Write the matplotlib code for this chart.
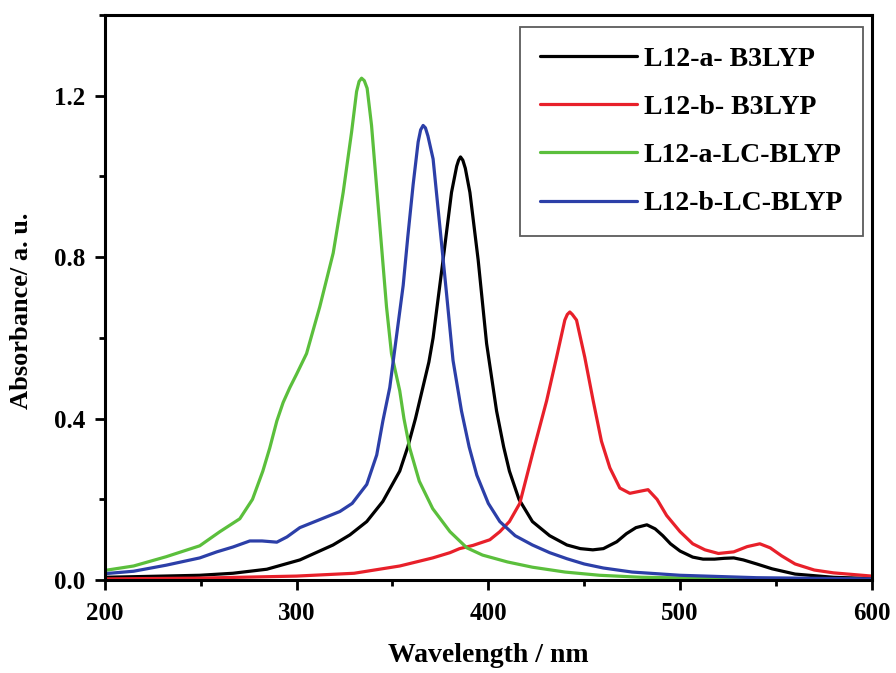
import matplotlib.pyplot as plt
from matplotlib.ticker import MultipleLocator

plt.rcParams['font.family'] = ['Liberation Serif', 'DejaVu Serif']
plt.rcParams['font.weight'] = 'bold'

# Spectra (wavelength in nm, absorbance in a.u.)
wl_a_b3 = [200, 230, 249.5, 266.8, 284.5, 301.7, 319, 327.8, 336.6, 345, 353.8, 358, 362, 366, 369, 371.2, 376.4,
           380.8, 383.5, 384.5, 385.5, 386.7, 388, 390.4, 394.7, 399.1, 404.3, 408, 411, 416, 423, 432, 441, 448, 454.5,
           460, 467, 472, 477, 482.7, 487, 491, 495, 500, 506.6, 512, 518, 523, 528, 533, 540, 548, 560, 580, 600]
ab_a_b3 = [0.007, 0.01, 0.012, 0.017, 0.027, 0.05, 0.087, 0.112, 0.145, 0.195, 0.27, 0.33, 0.4, 0.48, 0.54, 0.6,
           0.793, 0.96, 1.025, 1.04, 1.048, 1.04, 1.02, 0.96, 0.793, 0.586, 0.419, 0.33, 0.27, 0.2, 0.145, 0.11,
           0.087, 0.078, 0.075, 0.078, 0.095, 0.115, 0.13, 0.137, 0.127, 0.11, 0.09, 0.072, 0.057, 0.052, 0.052,
           0.054, 0.055, 0.05, 0.04, 0.028, 0.015, 0.007, 0.004]

wl_b_b3 = [200, 250, 300, 330, 353.8, 371, 380, 385, 392, 400.8, 406, 411, 416.4, 423.4, 430.4, 435.6, 439.9,
           441.2, 442.5, 443.8, 446, 450.3, 454.7, 459, 463.4, 468.6, 473.8, 479, 483.3, 488, 493, 500, 506.6, 513,
           520, 528, 535, 541.6, 547, 553, 560, 570, 580, 600]
ab_b_b3 = [0.003, 0.005, 0.01, 0.017, 0.035, 0.055, 0.068, 0.078, 0.086, 0.1, 0.12, 0.145, 0.19, 0.319, 0.444,
           0.552, 0.644, 0.658, 0.664, 0.658, 0.644, 0.552, 0.444, 0.344, 0.278, 0.228, 0.215, 0.22, 0.224, 0.2,
           0.16, 0.12, 0.09, 0.075, 0.066, 0.07, 0.083, 0.09, 0.08, 0.06, 0.04, 0.025, 0.018, 0.01]

wl_a_lc = [200, 215, 232, 249.5, 260, 270.4, 277, 282.4, 286, 289.7, 293, 296.5, 300, 305.2, 312.1, 319.1,
           324.3, 328.7, 331.3, 332.6, 333.9, 335.3, 336.8, 339.1, 341.7, 344.3, 346.9, 349.5, 353.8, 356, 359,
           364, 371, 380, 388.8, 397, 410, 423, 440, 458, 480, 520, 560, 600]
ab_a_lc = [0.024, 0.035, 0.058, 0.085, 0.12, 0.152, 0.2, 0.27, 0.327, 0.394, 0.44, 0.477, 0.51, 0.561, 0.677,
           0.81, 0.96, 1.11, 1.21, 1.235, 1.243, 1.237, 1.218, 1.126, 0.976, 0.827, 0.677, 0.561, 0.469, 0.4,
           0.327, 0.245, 0.177, 0.12, 0.08, 0.062, 0.045, 0.032, 0.02, 0.012, 0.007, 0.004, 0.002, 0.001]

wl_b_lc = [200, 215, 232, 249.5, 258.4, 266.8, 275.6, 282, 289.7, 295, 301.7, 310.6, 322.6, 329, 336.6, 341.8,
           345, 348.6, 352, 355.6, 358, 360.8, 363.4, 364.7, 366, 367.2, 368.5, 371.2, 374.7, 378.2, 381.6, 386,
           390, 394, 400, 406, 414, 423, 432, 441, 450, 460, 475, 500, 540, 600]
ab_b_lc = [0.016, 0.022, 0.037, 0.055, 0.07, 0.082, 0.097, 0.097, 0.094, 0.107, 0.13, 0.147, 0.17, 0.19, 0.237,
           0.31, 0.394, 0.477, 0.6, 0.73, 0.85, 0.98, 1.085, 1.115, 1.126, 1.12, 1.1, 1.043, 0.877, 0.71, 0.544,
           0.419, 0.33, 0.26, 0.19, 0.145, 0.11, 0.087, 0.068, 0.053, 0.04, 0.03, 0.02, 0.012, 0.006, 0.003]

series = [
    (wl_a_b3, ab_a_b3, 'L12-a- B3LYP', 'black'),
    (wl_b_b3, ab_b_b3, 'L12-b- B3LYP', '#e8202a'),
    (wl_a_lc, ab_a_lc, 'L12-a-LC-BLYP', '#5bbf3c'),
    (wl_b_lc, ab_b_lc, 'L12-b-LC-BLYP', '#2c3fa8'),
]

fig = plt.figure(figsize=(8.96, 6.73), dpi=100)
ax = fig.add_axes([0.117, 0.138, 0.856, 0.840])

for x, y, name, col in series:
    ax.plot(x, y, color=col, lw=2.3, label=name, solid_joinstyle='round', solid_capstyle='round')

ax.set_xlim(200, 600)
ax.set_ylim(0, 1.4)
ax.xaxis.set_major_locator(MultipleLocator(100))
ax.xaxis.set_minor_locator(MultipleLocator(50))
ax.yaxis.set_major_locator(MultipleLocator(0.4))
ax.yaxis.set_minor_locator(MultipleLocator(0.2))
ax.yaxis.set_major_formatter(plt.FormatStrFormatter('%.1f'))
ax.tick_params(which='major', direction='out', length=7, width=2, labelsize=18)
ax.tick_params(axis='x', which='major', pad=9)
ax.tick_params(axis='y', which='major', pad=7)
ax.tick_params(which='minor', direction='out', length=4.5, width=2)
for s in ax.spines.values():
    s.set_linewidth(2.2)

ax.set_xlabel('Wavelength / nm', fontsize=20, fontweight='bold')
ax.set_ylabel('Absorbance/ a. u.', fontsize=19, fontweight='bold')
ax.xaxis.set_label_coords(0.5, -0.112)
ax.yaxis.set_label_coords(-0.094, 0.476)

leg = ax.legend(loc='upper right', bbox_to_anchor=(0.988, 0.979), fontsize=20, handlelength=3.5,
                labelspacing=0.82, borderpad=0.7, borderaxespad=0, fancybox=False,
                edgecolor='#333333', handletextpad=0.25)
leg.get_frame().set_linewidth(1.3)
for t in leg.get_texts():
    t.set_fontweight('bold')

plt.savefig('out.png', dpi=100)
